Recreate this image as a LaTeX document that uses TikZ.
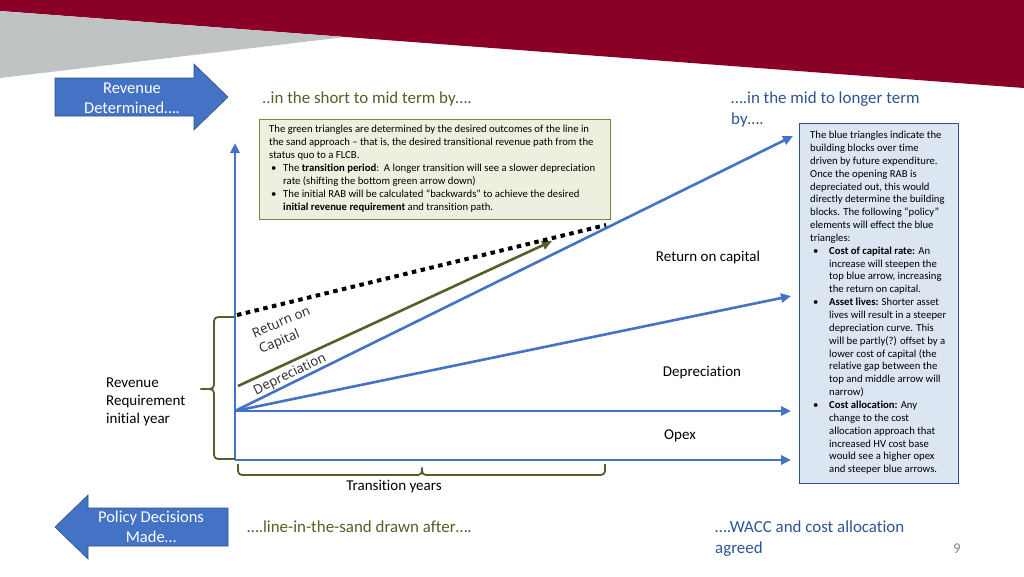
\documentclass[tikz,border=0pt]{standalone}
\usepackage{fontspec}
\setmainfont[Ligatures=NoCommon]{Carlito}
\newfontfamily\rotfont{Open Sans}
\usetikzlibrary{arrows.meta}
\definecolor{bandred}{RGB}{139,0,38}
\definecolor{bandgray}{RGB}{192,195,196}
\definecolor{axisblue}{RGB}{68,114,196}
\definecolor{arrowedge}{RGB}{47,82,143}
\definecolor{olive}{RGB}{79,98,40}
\definecolor{headblue}{RGB}{46,84,150}
\definecolor{gfill}{RGB}{235,241,222}
\definecolor{gedge}{RGB}{113,137,63}
\definecolor{bfill}{RGB}{220,230,242}
\definecolor{bedge}{RGB}{47,82,143}
\tikzset{
  px/.style={x=1pt,y=-1pt},
  bluearrow/.style={draw=axisblue,line width=2.6pt,-{Triangle[length=10pt,width=9pt]}},
  blockarrow/.style={fill=axisblue,draw=arrowedge,line width=0.6pt},
  arrowtext/.style={text=white,font=\fontsize{16.5}{20}\selectfont,align=center,inner sep=0},
  heading/.style={font=\fontsize{16.9}{21}\selectfont,align=left,inner sep=0,anchor=north west},
  label/.style={font=\fontsize{15}{18}\selectfont,inner sep=0,text=black},
  rotlabel/.style={font=\rotfont\fontsize{13.2}{17}\selectfont,inner sep=0,text=black!85},
  boxtext/.style={font=\fontsize{10.7}{12.85}\selectfont,align=left,inner sep=0,anchor=north west},
  bracestyle/.style={draw=olive,line width=1.8pt,rounded corners=4pt}
}
\newcommand{\gb}{\makebox[14pt][l]{\hspace{2pt}\textbullet}}
\newcommand{\gi}{\hspace*{14pt}}
\newcommand{\bb}{\makebox[19pt][l]{\hspace{3pt}\textbullet}}
\newcommand{\bi}{\hspace*{19pt}}
\begin{document}
\begin{tikzpicture}[px]
\useasboundingbox (0,0) rectangle (1024,576);
% background bands
\fill[white] (0,0) rectangle (1024,576);
\fill[bandred] (0,0) -- (1024,0) -- (1024,88) -- (0,11) -- cycle;
\fill[bandgray] (0,11) -- (345,37) -- (0,78) -- cycle;

% Revenue Determined arrow
\draw[blockarrow] (55,78) -- (194,78) -- (194,64) -- (228,97) -- (194,130) -- (194,116) -- (55,116) -- cycle;
\node[arrowtext] (revdet) at (132,98) {Revenue\\Determined….};

% Policy Decisions arrow
\draw[blockarrow] (228,508) -- (88,508) -- (88,495) -- (55,527) -- (88,559) -- (88,546) -- (228,546) -- cycle;
\node[arrowtext] (poldec) at (151,527) {Policy Decisions\\Made…};

% headings
\node[heading,text=olive] (h1) at (262,92) {..in the short to mid term by….};
\node[heading,text=headblue] (h2) at (731,92) {….in the mid to longer term\\by….};
\node[heading,text=olive] (h3) at (247,520.4) {….line-in-the-sand drawn after….};
\node[heading,text=headblue] (h4) at (715,520.4) {….WACC and cost allocation\\agreed};
\node[font=\fontsize{15}{17}\selectfont,text=black!45,inner sep=0] (pnum) at (957,549) {9};

% green box
\node[draw=gedge,fill=gfill,line width=1pt,minimum width=351pt,minimum height=100pt,anchor=north west,inner sep=0] (gbox) at (259,119) {};
\node[boxtext] (gtext) at (269,125.3) {The green triangles are determined by the desired outcomes of the line in\\
the sand approach -- that is, the desired transitional revenue path from the\\
status quo to a FLCB.\\
\gb The \textbf{transition period}:\ \ A longer transition will see a slower depreciation\\
\gi rate (shifting the bottom green arrow down)\\
\gb The initial RAB will be calculated “backwards” to achieve the desired\\
\gi \textbf{initial revenue requirement} and transition path.};

% blue box
\node[draw=bedge,fill=bfill,line width=1pt,minimum width=159pt,minimum height=360pt,anchor=north west,inner sep=0] (bbox) at (799,123) {};
\node[boxtext] (btext) at (810,131) {The blue triangles indicate the\\
building blocks over time\\
driven by future expenditure.\\
Once the opening RAB is\\
depreciated out, this would\\
directly determine the building\\
blocks. The following “policy”\\
elements will effect the blue\\
triangles:\\
\bb\textbf{Cost of capital rate:} An\\
\bi increase will steepen the\\
\bi top blue arrow, increasing\\
\bi the return on capital.\\
\bb\textbf{Asset lives:} Shorter asset\\
\bi lives will result in a steeper\\
\bi depreciation curve. This\\
\bi will be partly(?) offset by a\\
\bi lower cost of capital (the\\
\bi relative gap between the\\
\bi top and middle arrow will\\
\bi narrow)\\
\bb\textbf{Cost allocation:} Any\\
\bi change to the cost\\
\bi allocation approach that\\
\bi increased HV cost base\\
\bi would see a higher opex\\
\bi and steeper blue arrows.};

% axes and arrows
\coordinate (origin) at (235,460);
\coordinate (fan) at (235,411);
\coordinate (ytop) at (235,143);
\coordinate (xend) at (791,460);
\coordinate (opexend) at (791,411);
\coordinate (depend) at (791,296);
\coordinate (rocend) at (793,136);
\draw[bluearrow] (origin) -- (ytop);
\draw[bluearrow] (origin) -- (xend);
\draw[bluearrow] (fan) -- (opexend);
\draw[bluearrow] (fan) -- (depend);
\draw[bluearrow] (fan) -- (rocend);

% green arrow
\coordinate (gstart) at (238,386);
\coordinate (gend) at (552,241);
\draw[draw=olive,line width=2.6pt,-{Triangle[length=10pt,width=9pt]}] (gstart) -- (gend);

% dotted line
\coordinate (dstart) at (237,315);
\coordinate (dend) at (606,225);
\draw[black,line width=4pt,dash pattern=on 4.5pt off 4.5pt] (dstart) -- (dend);

% rotated labels
\node[rotlabel,rotate=23,align=left] (ret) at (285,331) {Return on\\Capital};
\node[rotlabel,rotate=26] (dep1) at (290,375) {Depreciation};

% right labels
\node[label] (roc) at (708,257) {Return on capital};
\node[label] (dep) at (702,373) {Depreciation};
\node[label] (opex) at (680,436) {Opex};
\node[label,align=left,anchor=west] (revreq) at (106,402) {Revenue\\Requirement\\initial year};
\node[label] (trans) at (394,487) {Transition years};

% braces
\draw[bracestyle] (235,317) -- (214,317) -- (214,389) -- (198,389) -- (214,389) -- (214,459) -- (235,459);
\draw[bracestyle] (238,464) -- (238,475) -- (422,475) -- (422,468) -- (422,475) -- (605,475) -- (605,464);
\end{tikzpicture}
\end{document}
